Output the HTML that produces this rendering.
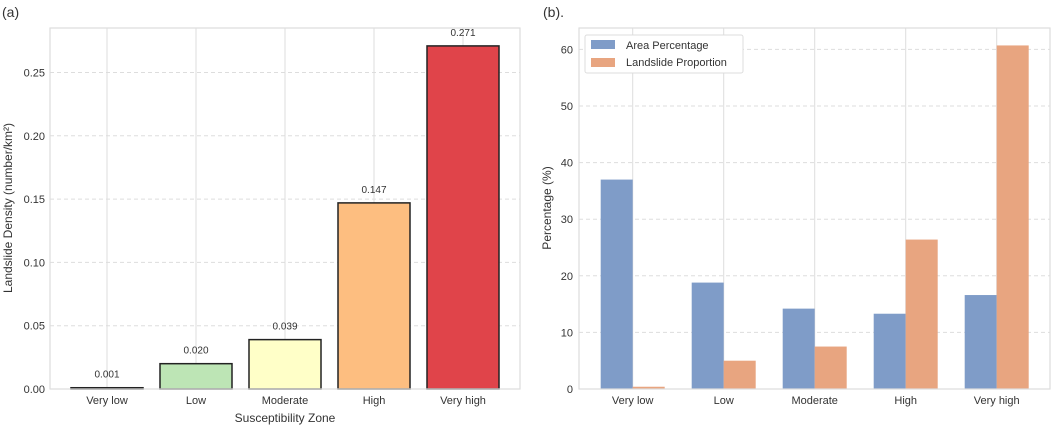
<!DOCTYPE html>
<html><head><meta charset="utf-8"><style>
body{margin:0;background:#fff;}
svg{display:block;font-family:"Liberation Sans",sans-serif;}
</style></head><body>
<svg id="svg" width="1059" height="427" viewBox="0 0 1059 427">
<text x="2" y="17" font-size="14" fill="#333">(a)</text>
<text x="543" y="17" font-size="14" fill="#333">(b).</text>
<g id="A"></g>
<g id="B"></g>
</svg>
<script>
const categories=["Very low","Low","Moderate","High","Very high"];
const densityValues=[0.001,0.020,0.039,0.147,0.271];
const densityLabels=["0.001","0.020","0.039","0.147","0.271"];
const densityColors=["#4a6070","#bde5b5","#ffffc8","#fdbe80","#e0444a"];
const densityTicks=[0,0.05,0.10,0.15,0.20,0.25];
const areaValues=[37.0,18.8,14.2,13.3,16.6];
const landslideValues=[0.4,5.0,7.5,26.4,60.7];
const pctTicks=[0,10,20,30,40,50,60];
const NS="http://www.w3.org/2000/svg";
function mk(p,t,a,txt){const e=document.createElementNS(NS,t);for(const k in a)e.setAttribute(k,a[k]);if(txt!==undefined)e.textContent=txt;p.appendChild(e);return e;}

// Panel A
(function(){
const g=document.getElementById('A');
const L=50,R=520,T=28,B=389;
const y=v=>B-v/0.05*63.3;
const x=i=>107+i*89;
mk(g,'rect',{x:L,y:T,width:R-L,height:B-T,fill:'#fff'});
densityTicks.forEach((t,i)=>{
 if(t>0){const l=mk(g,'line',{x1:L,x2:R,y1:y(t),y2:y(t),stroke:'#ddd','stroke-dasharray':'4,3'});
 }
 const tx=mk(g,'text',{x:L-5,y:y(t)+4,'font-size':11,fill:'#333','text-anchor':'end'},t.toFixed(2));
 
});
categories.forEach((c,i)=>{
 const l=mk(g,'line',{x1:x(i),x2:x(i),y1:T,y2:B,stroke:'#ddd'});
 
});
categories.forEach((c,i)=>{
 const v=densityValues[i];
 const r=mk(g,'rect',{x:x(i)-36,y:y(v),width:72,height:B-y(v),fill:densityColors[i],stroke:'#222','stroke-width':1.5});
 
 const lb=mk(g,'text',{x:x(i),y:y(v)-10,'font-size':10,fill:'#333','text-anchor':'middle'},densityLabels[i]);
 
 const xl=mk(g,'text',{x:x(i),y:B+15,'font-size':11,fill:'#333','text-anchor':'middle'},c);
 
});
mk(g,'rect',{x:L,y:T,width:R-L,height:B-T,fill:'none',stroke:'#ddd','stroke-width':1.2});
const xt=mk(g,'text',{x:(L+R)/2,y:422,'font-size':12,fill:'#333','text-anchor':'middle'},'Susceptibility Zone');

const yt=mk(g,'text',{x:0,y:0,'font-size':12,fill:'#333','text-anchor':'middle',transform:'translate(12,208) rotate(-90)'},'Landslide Density (number/km²)');

})();

// Panel B
(function(){
const g=document.getElementById('B');
const L=579,R=1050,T=28,B=389;
const y=v=>B-v/10*56.6;
const x=i=>632.7+i*91;
const bw=32;
mk(g,'rect',{x:L,y:T,width:R-L,height:B-T,fill:'#fff'});
pctTicks.forEach(t=>{
 if(t>0){const l=mk(g,'line',{x1:L,x2:R,y1:y(t),y2:y(t),stroke:'#ddd','stroke-dasharray':'4,3'});
 }
 const tx=mk(g,'text',{x:L-6,y:y(t)+4,'font-size':11,fill:'#333','text-anchor':'end'},String(t));
 
});
categories.forEach((c,i)=>{
 const l=mk(g,'line',{x1:x(i),x2:x(i),y1:T,y2:B,stroke:'#ddd'});
 
});
categories.forEach((c,i)=>{
 const a=mk(g,'rect',{x:x(i)-bw,y:y(areaValues[i]),width:bw,height:B-y(areaValues[i]),fill:'#7f9cc8'});
 
 const b=mk(g,'rect',{x:x(i),y:y(landslideValues[i]),width:bw,height:B-y(landslideValues[i]),fill:'#e8a580'});
 
 const xl=mk(g,'text',{x:x(i),y:B+15,'font-size':11,fill:'#333','text-anchor':'middle'},c);
 
});
mk(g,'rect',{x:L,y:T,width:R-L,height:B-T,fill:'none',stroke:'#ddd','stroke-width':1.2});
const yt=mk(g,'text',{x:0,y:0,'font-size':12,fill:'#333','text-anchor':'middle',transform:'translate(551,208) rotate(-90)'},'Percentage (%)');

const lg=mk(g,'g',{});

mk(lg,'rect',{x:585,y:35,width:158,height:38,fill:'#fff',stroke:'#ddd',rx:2});
mk(lg,'rect',{x:591,y:40,width:24,height:9,fill:'#7f9cc8'});
const e1=mk(lg,'text',{x:626,y:49,'font-size':11,fill:'#333'},'Area Percentage');

mk(lg,'rect',{x:591,y:58,width:24,height:9,fill:'#e8a580'});
const e2=mk(lg,'text',{x:626,y:66,'font-size':11,fill:'#333'},'Landslide Proportion');

})();
</script>
</body></html>
